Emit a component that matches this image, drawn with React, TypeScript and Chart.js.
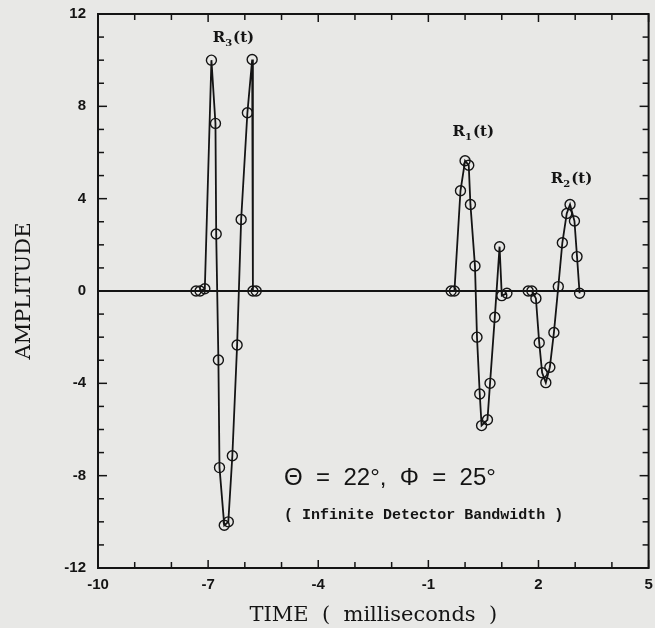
import React, { useEffect, useRef } from "react";
import { Chart, registerables } from "chart.js";
Chart.register(...registerables);

// R3(t) pulse
const r3Time = [-7.33, -7.22, -7.09, -6.91, -6.8, -6.78, -6.72, -6.69, -6.56, -6.45, -6.34, -6.21, -6.1, -5.93, -5.8, -5.78, -5.69];
const r3Amp = [0, 0, 0.1, 10.0, 7.26, 2.47, -2.99, -7.65, -10.15, -10.0, -7.14, -2.34, 3.1, 7.72, 10.03, 0, 0];
// R1(t) pulse
const r1Time = [-0.38, -0.29, -0.125, 0.0, 0.1, 0.146, 0.27, 0.325, 0.4, 0.45, 0.61, 0.68, 0.81, 0.94, 1.0, 1.14];
const r1Amp = [0, 0, 4.34, 5.64, 5.45, 3.75, 1.08, -2.0, -4.46, -5.83, -5.58, -4.0, -1.14, 1.92, -0.2, -0.1];
// R2(t) pulse
const r2Time = [1.72, 1.82, 1.93, 2.02, 2.1, 2.2, 2.31, 2.42, 2.54, 2.65, 2.77, 2.86, 2.98, 3.05, 3.12];
const r2Amp = [0, 0, -0.32, -2.24, -3.54, -3.97, -3.3, -1.8, 0.19, 2.09, 3.36, 3.75, 3.03, 1.49, -0.1];
// baseline
const zeroTime = [-10, 5];
const zeroAmp = [0, 0];

const xMin = -10, xMax = 5, xLabelStep = 3;
const yMin = -12, yMax = 12, yLabelStep = 4;

const pts = (xs: number[], ys: number[]) => xs.map((x, i) => ({ x, y: ys[i] }));

const INK = "#141414";
const BG = "#e8e8e6";

const drawR = (ctx: CanvasRenderingContext2D, cx: number, cy: number, sub: string) => {
  const big = "bold 15px 'DejaVu Serif'";
  const small = "bold 10px 'DejaVu Serif'";
  ctx.font = big;
  const wR = ctx.measureText("R").width;
  const wT = ctx.measureText("(t)").width;
  ctx.font = small;
  const wS = ctx.measureText(sub).width;
  let x0 = cx - (wR + wS + wT + 1) / 2;
  ctx.textAlign = "left";
  ctx.textBaseline = "middle";
  ctx.font = big;
  ctx.fillText("R", x0, cy);
  x0 += wR;
  ctx.font = small;
  ctx.fillText(sub, x0, cy + 5);
  x0 += wS + 1;
  ctx.font = big;
  ctx.fillText("(t)", x0, cy);
};

const decor = {
  id: "decor",
  beforeDraw(chart: any) {
    const { ctx, width, height } = chart;
    ctx.save();
    ctx.fillStyle = BG;
    ctx.fillRect(0, 0, width, height);
    ctx.restore();
  },
  afterDatasetsDraw(chart: any) {
    const { ctx, chartArea: a, scales } = chart;
    const x = scales.x, y = scales.y;
    ctx.save();
    ctx.strokeStyle = INK;
    ctx.lineWidth = 2;
    ctx.strokeRect(a.left, a.top, a.right - a.left, a.bottom - a.top);
    ctx.lineWidth = 1.5;
    const seg = (x1: number, y1: number, x2: number, y2: number) => {
      ctx.beginPath();
      ctx.moveTo(x1, y1);
      ctx.lineTo(x2, y2);
      ctx.stroke();
    };
    for (let v = xMin; v <= xMax; v++) {
      const px = x.getPixelForValue(v);
      const L = (v - xMin) % xLabelStep === 0 ? 8 : 6;
      seg(px, a.bottom, px, a.bottom - L);
      seg(px, a.top, px, a.top + L);
    }
    for (let v = yMin; v <= yMax; v++) {
      const py = y.getPixelForValue(v);
      const L = v % yLabelStep === 0 ? 9 : 6;
      seg(a.left, py, a.left + L, py);
      seg(a.right, py, a.right - L, py);
    }
    ctx.fillStyle = INK;
    drawR(ctx, x.getPixelForValue(-6.31), y.getPixelForValue(10.96), "3");
    drawR(ctx, x.getPixelForValue(0.225), y.getPixelForValue(6.87), "1");
    drawR(ctx, x.getPixelForValue(2.9), y.getPixelForValue(4.83), "2");

    ctx.textAlign = "left";
    ctx.textBaseline = "middle";
    ctx.font = "24px 'Liberation Sans'";
    ctx.fillText("\u0398  =  22\u00b0,  \u03a6  =  25\u00b0", x.getPixelForValue(-4.93), y.getPixelForValue(-8.13));
    ctx.font = "bold 15px 'Liberation Mono'";
    ctx.fillText("( Infinite Detector Bandwidth )", x.getPixelForValue(-4.93), y.getPixelForValue(-9.7));
    ctx.restore();
  },
};

export default function App() {
  const ref = useRef<HTMLCanvasElement | null>(null);
  useEffect(() => {
    if (!ref.current) return;
    const line = (data: { x: number; y: number }[], radius: number) => ({
      data,
      borderColor: INK,
      borderWidth: 1.8,
      pointRadius: radius,
      pointBorderWidth: 1.4,
      pointBorderColor: INK,
      pointBackgroundColor: "rgba(0,0,0,0)",
      pointStyle: "circle",
      tension: 0,
      fill: false,
    });
    const chart = new Chart(ref.current, {
      type: "line",
      data: {
        datasets: [
          line(pts(zeroTime, zeroAmp), 0),
          line(pts(r3Time, r3Amp), 5),
          line(pts(r1Time, r1Amp), 5),
          line(pts(r2Time, r2Amp), 5),
        ] as any,
      },
      options: {
        animation: false,
        responsive: false,
        devicePixelRatio: 1,
        layout: { padding: { left: 0, right: 4, top: 14, bottom: 0 } },
        plugins: { legend: { display: false }, tooltip: { enabled: false } },
        scales: {
          x: {
            type: "linear",
            min: xMin,
            max: xMax,
            afterFit: (s: any) => {
              s.height = 60;
              s.paddingLeft = 0;
              s.paddingRight = 0;
            },
            grid: { drawOnChartArea: false, drawTicks: false },
            border: { display: false },
            ticks: {
              stepSize: 1,
              autoSkip: false,
              maxRotation: 0,
              padding: 8,
              color: INK,
              font: { family: "'Liberation Sans'", size: 15, weight: "bold" },
              callback: (v: any) => ((Number(v) - xMin) % xLabelStep === 0 ? String(v) : ""),
            },
            title: {
              display: true,
              text: "TIME  (  milliseconds  )",
              color: INK,
              font: { family: "'DejaVu Serif'", size: 21 },
              padding: { top: 0, bottom: 0 },
            },
          },
          y: {
            type: "linear",
            min: yMin,
            max: yMax,
            afterFit: (s: any) => {
              s.width = 98;
              s.paddingTop = 0;
              s.paddingBottom = 0;
            },
            grid: { drawOnChartArea: false, drawTicks: false },
            border: { display: false },
            ticks: {
              stepSize: 1,
              autoSkip: false,
              padding: 12,
              color: INK,
              font: { family: "'Liberation Sans'", size: 15, weight: "bold" },
              callback: (v: any) => (Number(v) % yLabelStep === 0 ? String(v) : ""),
            },
            title: {
              display: true,
              text: "AMPLITUDE",
              color: INK,
              font: { family: "'DejaVu Serif'", size: 21 },
              padding: { top: 12, bottom: 0 },
            },
          },
        },
      } as any,
      plugins: [decor],
    });
    return () => chart.destroy();
  }, []);
  return (
    <div style={{ position: "absolute", left: 0, top: 0, width: 655, height: 628, background: BG }}>
      <canvas ref={ref} width={655} height={628} style={{ width: 655, height: 628, display: "block" }} />
    </div>
  );
}
